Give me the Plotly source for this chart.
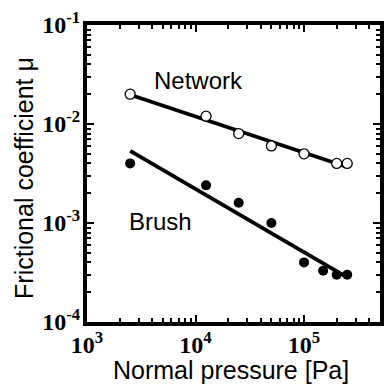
import numpy as np
import plotly.graph_objects as go

# Normal pressure [Pa] and frictional coefficient for the two surfaces
pressure_network = [2.5e3, 1.25e4, 2.5e4, 5e4, 1e5, 2e5, 2.5e5]
mu_network = [0.020, 0.012, 0.008, 0.006, 0.005, 0.004, 0.004]

pressure_brush = [2.5e3, 1.25e4, 2.5e4, 5e4, 1e5, 1.5e5, 2e5, 2.5e5]
mu_brush = [0.004, 0.0024, 0.0016, 0.001, 0.0004, 0.00033, 0.0003, 0.0003]

x_tickvals = [1e3, 1e4, 1e5]
x_ticktext = ["<b>10<sup>3</sup></b>", "<b>10<sup>4</sup></b>", "<b>10<sup>5</sup></b>"]
y_tickvals = [1e-4, 1e-3, 1e-2, 1e-1]
y_ticktext = ["<b>10<sup>-4</sup></b>", "<b>10<sup>-3</sup></b>",
              "<b>10<sup>-2</sup></b>", "<b>10<sup>-1</sup></b>"]


def power_fit(x, y):
    """Least-squares power law in log-log space, evaluated over the data span."""
    lx, ly = np.log10(x), np.log10(y)
    slope, icpt = np.polyfit(lx, ly, 1)
    xs = np.array([min(x), max(x)])
    return xs, 10 ** (icpt + slope * np.log10(xs))


fx_n, fy_n = power_fit(pressure_network, mu_network)
fx_b, fy_b = power_fit(pressure_brush, mu_brush)

fig = go.Figure()
fig.add_trace(go.Scatter(x=fx_n, y=fy_n, mode="lines",
                         line=dict(color="black", width=3.8), showlegend=False))
fig.add_trace(go.Scatter(x=fx_b, y=fy_b, mode="lines",
                         line=dict(color="black", width=3.8), showlegend=False))
fig.add_trace(go.Scatter(x=pressure_network, y=mu_network, mode="markers",
                         marker=dict(symbol="circle", size=10, color="white",
                                     line=dict(color="black", width=1.3)),
                         showlegend=False))
fig.add_trace(go.Scatter(x=pressure_brush, y=mu_brush, mode="markers",
                         marker=dict(symbol="circle", size=10, color="black",
                                     line=dict(color="black", width=0)),
                         showlegend=False))

tick_font = dict(family="Liberation Serif", size=24, color="black")
title_font = dict(family="Liberation Sans", size=25, color="black")

axis_common = dict(
    type="log",
    showgrid=False,
    zeroline=False,
    showline=True,
    linecolor="black",
    linewidth=4,
    mirror="allticks",
    ticks="inside",
    ticklen=7,
    tickwidth=2,
    tickcolor="black",
    tickmode="array",
    tickfont=tick_font,
    minor=dict(ticks="inside", ticklen=4, tickwidth=2, tickcolor="black",
               dtick="D1", showgrid=False),
)

fig.update_xaxes(**axis_common, range=[3, 5.7], tickvals=x_tickvals,
                 ticktext=x_ticktext, ticklabelstandoff=-2)
fig.update_yaxes(**axis_common, range=[-4, -1], tickvals=y_tickvals,
                 ticktext=y_ticktext, ticklabelstandoff=-2)

# Axis titles
fig.add_annotation(x=0.49, y=-0.162, xref="paper", yref="paper",
                   text="Normal pressure [Pa]", showarrow=False,
                   xanchor="center", yanchor="middle", font=title_font)
fig.add_annotation(x=-0.215, y=0.485, xref="paper", yref="paper",
                   text="Frictional coefficient μ", showarrow=False,
                   textangle=-90, xanchor="center", yanchor="middle",
                   font=title_font)

label_font = dict(family="Liberation Sans", size=24, color="black")
fig.add_annotation(x=4.03, y=-1.556, xref="x", yref="y", text="Network",
                   showarrow=False, font=label_font)
fig.add_annotation(x=3.68, y=-2.987, xref="x", yref="y", text="Brush",
                   showarrow=False, font=label_font)

fig.update_layout(
    width=386, height=385,
    margin=dict(l=87, r=2, t=25, b=63),
    paper_bgcolor="white",
    plot_bgcolor="white",
)

fig.write_html("out.html")
